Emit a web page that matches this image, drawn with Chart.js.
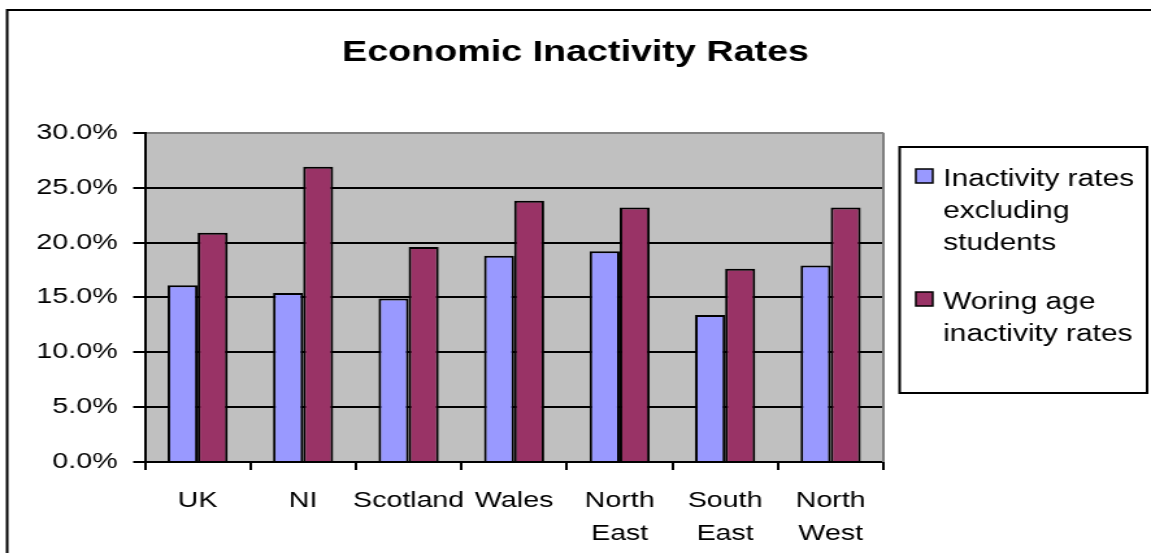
<!DOCTYPE html>
<html lang="en">
<head>
  <meta charset="UTF-8">
  <title>Economic Inactivity Rates</title>
  <script src="https://cdn.jsdelivr.net/npm/chart.js"></script>
  <style>
    html, body { margin: 0; padding: 0; background: #fff; overflow: hidden; }
    /* chart is laid out narrow and stretched sideways to the full window */
    #wrap { width: 886px; height: 553px; transform-origin: 0 0; transform: scaleX(1.2991); }
    #chart { display: block; }
  </style>
</head>
<body>
  <div id="wrap">
    <canvas id="chart" width="886" height="553"></canvas>
  </div>

  <script>
    const categories = ['UK', 'NI', 'Scotland', 'Wales', ['North', 'East'], ['South', 'East'], ['North', 'West']];
    const excludingStudents = [16.1, 15.4, 14.9, 18.8, 19.2, 13.4, 17.9];
    const workingAge = [20.9, 26.9, 19.6, 23.8, 23.2, 17.6, 23.2];
    const seriesNames = ['Inactivity rates excluding students', 'Woring age inactivity rates'];
    const legendLines = [['Inactivity rates', 'excluding', 'students'], ['Woring age', 'inactivity rates']];
    const yMin = 0, yMax = 30, yStep = 5;

    const FONT = '"Liberation Sans", Arial, sans-serif';

    // grey plot background, grey right frame, outer chart border
    const plotFrame = {
      id: 'plotFrame',
      beforeDraw(chart) {
        const { ctx, chartArea: a } = chart;
        ctx.save();
        ctx.fillStyle = '#fff';
        ctx.fillRect(0, 0, chart.width, chart.height);
        ctx.strokeStyle = '#000';
        ctx.lineWidth = 2;
        ctx.strokeRect(5.5, 10, chart.width + 20, chart.height + 20);
        ctx.fillStyle = '#C0C0C0';
        ctx.fillRect(a.left, a.top, a.right - a.left, a.bottom - a.top);
        ctx.restore();
      },
      beforeDatasetsDraw(chart) {
        const { ctx, chartArea: a } = chart;
        ctx.save();
        ctx.strokeStyle = '#808080';
        ctx.lineWidth = 2;
        ctx.beginPath();
        ctx.moveTo(a.right, a.top);
        ctx.lineTo(a.right, a.bottom);
        ctx.stroke();
        ctx.restore();
      }
    };

    // boxed legend on the right with wrapped labels
    const boxLegend = {
      id: 'boxLegend',
      afterDraw(chart) {
        const { ctx } = chart;
        ctx.save();
        ctx.strokeStyle = '#000';
        ctx.lineWidth = 2;
        ctx.strokeRect(692.5, 147, 190.5, 246);
        ctx.font = '23px ' + FONT;
        ctx.textBaseline = 'alphabetic';
        let y = 186;
        chart.data.datasets.forEach((ds, i) => {
          ctx.fillStyle = ds.backgroundColor;
          ctx.fillRect(705, y - 17, 13, 14);
          ctx.lineWidth = 1.5;
          ctx.strokeRect(705, y - 17, 13, 14);
          ctx.fillStyle = '#000';
          legendLines[i].forEach((line, j) => ctx.fillText(line, 726, y + j * 32));
          y += legendLines[i].length * 32 + 27;
        });
        ctx.restore();
      }
    };

    new Chart(document.getElementById('chart'), {
      type: 'bar',
      data: {
        labels: categories,
        datasets: [
          {
            label: seriesNames[0],
            data: excludingStudents,
            backgroundColor: '#9999FF',
            borderColor: '#000',
            borderWidth: 2
          },
          {
            label: seriesNames[1],
            data: workingAge,
            backgroundColor: '#993366',
            borderColor: '#000',
            borderWidth: 2
          }
        ]
      },
      options: {
        responsive: false,
        animation: false,
        categoryPercentage: 0.57,
        barPercentage: 1.0,
        layout: { padding: 0 },
        plugins: {
          legend: { display: false },
          tooltip: { enabled: false },
          title: {
            display: true,
            text: 'Economic Inactivity Rates',
            color: '#000',
            font: { family: FONT, size: 29, weight: 'bold', lineHeight: 1.2 },
            padding: { top: 36, bottom: 62 }
          }
        },
        scales: {
          x: {
            grid: { drawOnChartArea: false, drawTicks: true, tickLength: 8, color: '#000', lineWidth: 2 },
            border: { color: '#000', width: 2 },
            ticks: {
              color: '#000',
              maxRotation: 0,
              autoSkip: false,
              padding: 14,
              font: { family: FONT, size: 22, lineHeight: 1.5 }
            },
            afterFit(scale) { scale.height = 91; }
          },
          y: {
            min: yMin,
            max: yMax,
            grid: {
              color: ctx => (ctx.tick && ctx.tick.value === yMax ? '#808080' : '#000'),
              tickColor: '#000',
              lineWidth: 2,
              tickLength: 9
            },
            border: { color: '#000', width: 2 },
            ticks: {
              stepSize: yStep,
              color: '#000',
              padding: 12,
              font: { family: FONT, size: 22 },
              callback: v => v.toFixed(1) + '%'
            },
            afterFit(scale) { scale.width = 111.5; }
          },
          // empty right-hand axis that reserves room for the legend box
          side: {
            type: 'linear',
            position: 'right',
            display: true,
            grid: { display: false },
            border: { display: false },
            ticks: { display: false },
            afterFit(scale) { scale.width = 206; }
          }
        }
      },
      plugins: [plotFrame, boxLegend]
    });
  </script>
</body>
</html>
